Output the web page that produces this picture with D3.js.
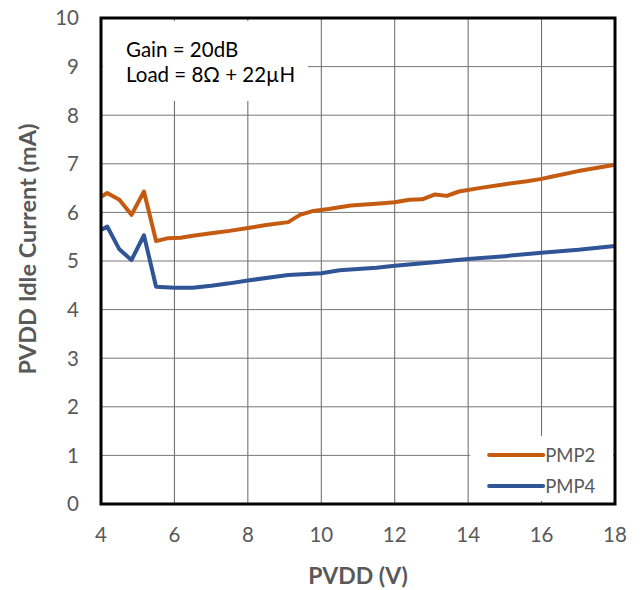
<!DOCTYPE html>
<html>
<head>
<meta charset="utf-8">
<script src="https://cdn.jsdelivr.net/npm/d3@7"></script>
<style>
  body { margin: 0; background: #fff; }
  svg text { font-family: Lato, "Open Sans", sans-serif; }
</style>
</head>
<body>
<div id="chart"></div>
<script>
// PVDD idle current vs PVDD
const pmp2Volts = [4.0, 4.17, 4.5, 4.83, 5.17, 5.5, 5.83, 6.17, 6.5, 7.0, 7.5, 8.0, 8.5, 9.1, 9.42, 9.78,
                   10.2, 10.8, 11.5, 12.0, 12.4, 12.75, 13.1, 13.42, 13.75, 14.3, 15.0, 15.6, 16.0, 16.3, 17.0, 18.0];
const pmp2Current = [6.32, 6.40, 6.26, 5.95, 6.43, 5.41, 5.47, 5.48, 5.52, 5.57, 5.62, 5.68, 5.74, 5.80, 5.95, 6.03,
                     6.07, 6.14, 6.18, 6.21, 6.26, 6.27, 6.37, 6.34, 6.43, 6.50, 6.58, 6.64, 6.69, 6.74, 6.85, 6.98];
const pmp4Volts = [4.0, 4.17, 4.5, 4.83, 5.17, 5.5, 6.0, 6.5, 7.0, 7.5, 8.0, 9.1, 10.0, 10.5, 11.5,
                   12.0, 13.0, 14.0, 15.0, 16.0, 17.0, 18.0];
const pmp4Current = [5.64, 5.71, 5.24, 5.02, 5.53, 4.47, 4.45, 4.45, 4.49, 4.54, 4.60, 4.71, 4.75, 4.81, 4.86,
                     4.90, 4.97, 5.04, 5.10, 5.17, 5.23, 5.31];
const xTicks = [4, 6, 8, 10, 12, 14, 16, 18];
const yTicks = [0, 1, 2, 3, 4, 5, 6, 7, 8, 9, 10];
const seriesNames = ["PMP2", "PMP4"];
const seriesColors = ["#C55A11", "#2F5597"];
const noteLines = ["Gain = 20dB", "Load = 8\u03A9 + 22\u00B5H"];

const width = 643, height = 590;
const margin = {top: 18, right: 28, bottom: 86, left: 101};
const innerW = width - margin.left - margin.right;
const innerH = height - margin.top - margin.bottom;

const svg = d3.select("#chart").append("svg")
    .attr("width", width)
    .attr("height", height);

const g = svg.append("g")
    .attr("transform", `translate(${margin.left},${margin.top})`);

const x = d3.scaleLinear().domain([4, 18]).range([0, innerW]);
const y = d3.scaleLinear().domain([0, 10]).range([innerH, 0]);

// grid lines
g.selectAll(".vgrid").data(xTicks).enter().append("line")
    .attr("x1", d => x(d)).attr("x2", d => x(d))
    .attr("y1", 0).attr("y2", innerH)
    .attr("stroke", "#666").attr("stroke-width", 1);
g.selectAll(".hgrid").data(yTicks).enter().append("line")
    .attr("x1", 0).attr("x2", innerW)
    .attr("y1", d => y(d)).attr("y2", d => y(d))
    .attr("stroke", "#777").attr("stroke-width", 1);

// annotation box (white, hides the grid behind it)
g.append("rect")
    .attr("x", 2).attr("y", 3)
    .attr("width", 205).attr("height", 80)
    .attr("fill", "#fff");
g.selectAll(".note").data(noteLines).enter().append("text")
    .attr("x", 25)
    .attr("y", (d, i) => 39 + i * 25)
    .attr("font-size", 20.5)
    .attr("fill", "#000")
    .text(d => d);

// legend box
const legend = g.append("g").attr("transform", `translate(${x(14) + 2},${y(1.4)})`);
legend.append("rect")
    .attr("x", 0).attr("y", 0)
    .attr("width", x(18) - x(14) - 4).attr("height", y(0) - y(1.4) - 3)
    .attr("fill", "#fff");
seriesNames.forEach((name, i) => {
    legend.append("line")
        .attr("x1", 19).attr("x2", 73)
        .attr("y1", 19 + i * 31).attr("y2", 19 + i * 31)
        .attr("stroke", seriesColors[i]).attr("stroke-width", 4)
        .attr("stroke-linecap", "round");
    legend.append("text")
        .attr("x", 75).attr("y", 19 + i * 31)
        .attr("dy", "0.36em")
        .attr("font-size", 18.5)
        .attr("fill", "#595959")
        .text(name);
});

// lines
const line = d3.line().x(d => x(d[0])).y(d => y(d[1]));
const series = [d3.zip(pmp2Volts, pmp2Current), d3.zip(pmp4Volts, pmp4Current)];
series.forEach((s, i) => {
    g.append("path")
        .datum(s)
        .attr("d", line)
        .attr("fill", "none")
        .attr("stroke", seriesColors[i])
        .attr("stroke-width", 4)
        .attr("stroke-linejoin", "round");
});

// frame
g.append("rect")
    .attr("x", 0).attr("y", 0)
    .attr("width", innerW).attr("height", innerH)
    .attr("fill", "none")
    .attr("stroke", "#000").attr("stroke-width", 3);

// tick labels
g.selectAll(".xlab").data(xTicks).enter().append("text")
    .attr("x", d => x(d))
    .attr("y", innerH + 38)
    .attr("text-anchor", "middle")
    .attr("font-size", 20.5)
    .attr("fill", "#595959")
    .text(d => d);
g.selectAll(".ylab").data(yTicks).enter().append("text")
    .attr("x", -22)
    .attr("y", d => y(d))
    .attr("dy", "0.36em")
    .attr("text-anchor", "end")
    .attr("font-size", 20.5)
    .attr("fill", "#595959")
    .text(d => d);

// axis titles
svg.append("text")
    .attr("x", margin.left + innerW / 2)
    .attr("y", 584)
    .attr("text-anchor", "middle")
    .attr("font-size", 23)
    .attr("font-weight", "bold")
    .attr("fill", "#595959")
    .text("PVDD (V)");
svg.append("text")
    .attr("transform", "translate(36,249) rotate(-90)")
    .attr("text-anchor", "middle")
    .attr("font-size", 23.5)
    .attr("font-weight", "bold")
    .attr("fill", "#595959")
    .text("PVDD Idle Current (mA)");
</script>
</body>
</html>
